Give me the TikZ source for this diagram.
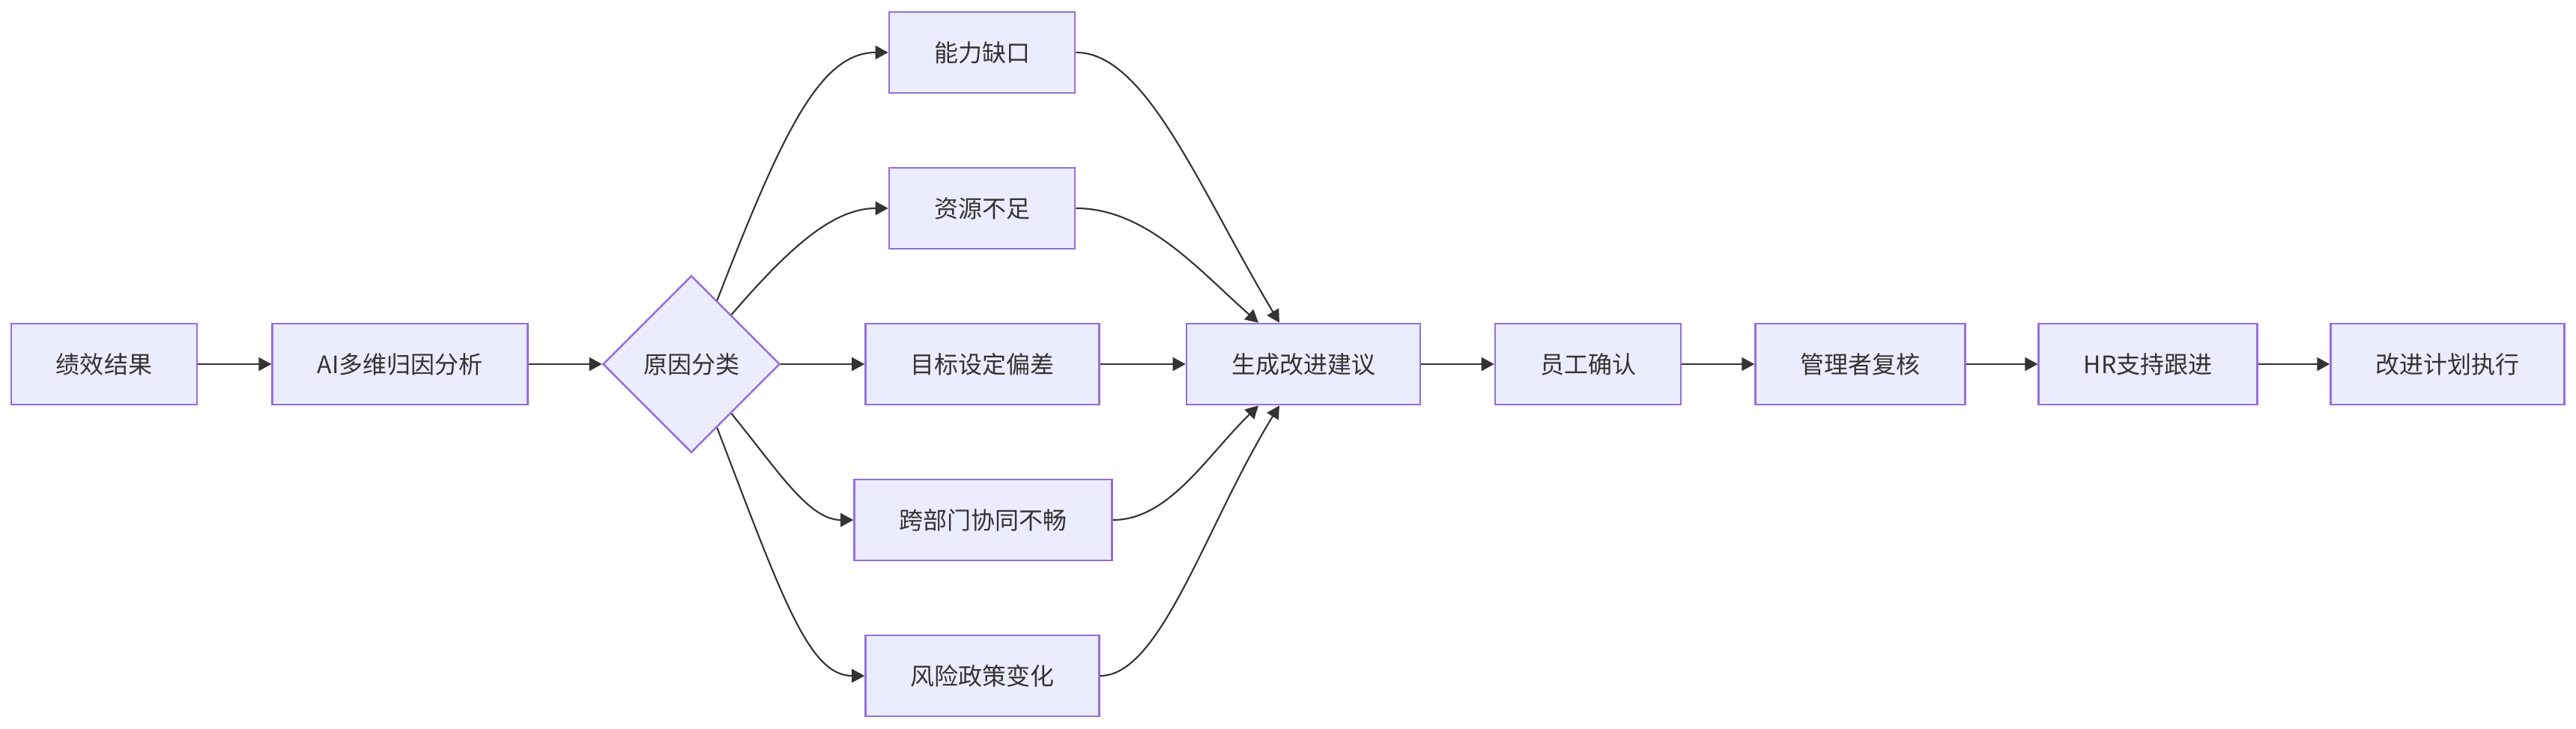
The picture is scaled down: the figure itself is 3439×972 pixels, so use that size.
\documentclass[tikz,border=0pt]{standalone}
\usepackage{fontspec}
\setmainfont{Noto Sans CJK SC}
\usetikzlibrary{shapes.geometric,arrows.meta}
\definecolor{boxfill}{HTML}{ECECFF}
\definecolor{boxline}{HTML}{9370DB}
\definecolor{ink}{HTML}{333333}

\begin{document}
\begin{tikzpicture}[x=0.01cm, y=-0.01cm,
  every node/.style={font=\fontsize{9.1}{11}\selectfont, text=ink},
  box/.style={draw=boxline, fill=boxfill, line width=0.7pt,
    minimum height=1.08cm, inner xsep=0.6cm},
  choice/.style={diamond, draw=boxline, fill=boxfill, line width=0.7pt,
    minimum width=2.36cm, minimum height=2.36cm, inner sep=0pt},
  link/.style={draw=ink, line width=0.6pt, -{Triangle[length=0.17cm,width=0.18cm]}}]
  \useasboundingbox (0,0) rectangle (3439,972);

  \node[box]    (res)  at (139,486)    {绩效结果};
  \node[box]    (ai)   at (534,486)    {AI多维归因分析};
  \node[choice] (cls)  at (923,486)    {原因分类};
  \node[box]    (gap)  at (1311,70)    {能力缺口};
  \node[box]    (lack) at (1311,278)   {资源不足};
  \node[box]    (goal) at (1311.5,486) {目标设定偏差};
  \node[box]    (coop) at (1312.5,694) {跨部门协同不畅};
  \node[box]    (risk) at (1311.5,902) {风险政策变化};
  \node[box]    (gen)  at (1740,486)   {生成改进建议};
  \node[box]    (ack)  at (2120,486)   {员工确认};
  \node[box]    (rev)  at (2483.5,486) {管理者复核};
  \node[box]    (hr)   at (2867.5,486) {HR支持跟进};
  \node[box]    (plan) at (3267.5,486) {改进计划执行};

  \draw[link] (res) -- (ai);
  \draw[link] (ai) -- (cls);
  \draw[link] (cls.68) .. controls (1045,175) and (1095,70) .. (gap.west);
  \draw[link] (cls.51) .. controls (1050,335) and (1110,278) .. (lack.west);
  \draw[link] (cls) -- (goal);
  \draw[link] (cls.-51) .. controls (1040,630) and (1080,694) .. (coop.west);
  \draw[link] (cls.-68) .. controls (1045,800) and (1080,902) .. (risk.west);

  \draw[link] (gap.east) .. controls (1530,70) and (1600,250) .. ([xshift=-0.32cm]gen.north);
  \draw[link] (lack.east) .. controls (1530,278) and (1600,360) .. ([xshift=-0.6cm]gen.north);
  \draw[link] (goal) -- (gen);
  \draw[link] (coop.east) .. controls (1560,694) and (1610,610) .. ([xshift=-0.6cm]gen.south);
  \draw[link] (risk.east) .. controls (1550,902) and (1610,700) .. ([xshift=-0.32cm]gen.south);

  \foreach \a/\b in {gen/ack, ack/rev, rev/hr, hr/plan}
    \draw[link] (\a) -- (\b);
\end{tikzpicture}
\end{document}
